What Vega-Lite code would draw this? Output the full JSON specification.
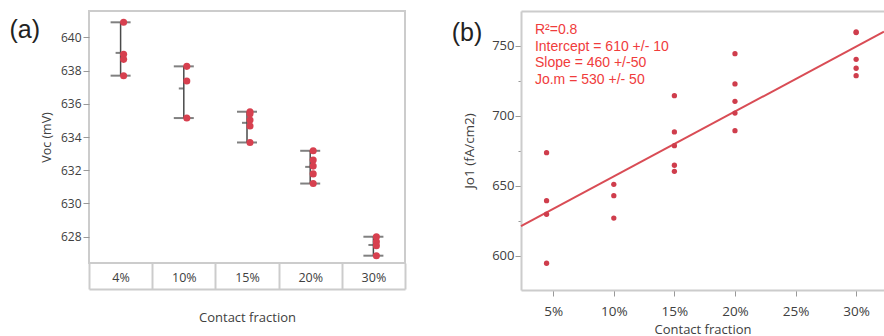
{
  "$schema": "https://vega.github.io/schema/vega-lite/v6.json",
  "padding": {"left": 8, "top": 10, "right": 0, "bottom": 0},
  "spacing": 44,
  "config": {
    "font": "Open Sans",
    "view": {"stroke": "#cccccc", "strokeWidth": 2},
    "axis": {"grid": false, "labelColor": "#404040", "titleColor": "#404040", "titleFontWeight": "normal", "tickColor": "#999999", "domainColor": "#cccccc", "domainWidth": 2},
    "title": {"font": "Liberation Sans", "fontWeight": "normal", "fontSize": 25, "color": "#222222", "anchor": "start", "frame": "bounds"}
  },
  "hconcat": [
    {
      "width": 316,
      "height": 252,
      "title": {"text": "(a)", "offset": -25, "dx": -31, "dy": 26.7, "baseline": "alphabetic"},
      "data": {"values": [
        {"cf": "4%", "voc": 640.9}, {"cf": "4%", "voc": 638.98}, {"cf": "4%", "voc": 638.67}, {"cf": "4%", "voc": 637.69},
        {"cf": "10%", "voc": 638.25}, {"cf": "10%", "voc": 637.37}, {"cf": "10%", "voc": 635.14},
        {"cf": "15%", "voc": 635.52}, {"cf": "15%", "voc": 635.4}, {"cf": "15%", "voc": 635.02}, {"cf": "15%", "voc": 634.66}, {"cf": "15%", "voc": 633.67},
        {"cf": "20%", "voc": 633.17}, {"cf": "20%", "voc": 632.61}, {"cf": "20%", "voc": 632.25}, {"cf": "20%", "voc": 631.78}, {"cf": "20%", "voc": 631.2},
        {"cf": "30%", "voc": 628.0}, {"cf": "30%", "voc": 627.7}, {"cf": "30%", "voc": 627.46}, {"cf": "30%", "voc": 626.86}
      ]},
      "resolve": {"axis": {"x": "independent"}},
      "layer": [
        {
          "transform": [{"aggregate": [{"op": "min", "field": "voc", "as": "lo"}, {"op": "max", "field": "voc", "as": "hi"}], "groupby": ["cf"]}],
          "mark": {"type": "rule", "color": "#4a4a4a", "strokeWidth": 1.5},
          "encoding": {
            "x": {"field": "cf", "type": "nominal", "scale": {"type": "band", "domain": ["4%", "10%", "15%", "20%", "30%"], "paddingInner": 0, "paddingOuter": 0},
              "axis": {"orient": "bottom", "title": null, "tickBand": "extent", "tickSize": 26, "tickColor": "#cccccc", "tickWidth": 2, "domain": false, "labelPadding": -18, "labelFontSize": 12.5, "labelAngle": 0}},
            "y": {"field": "lo", "type": "quantitative", "scale": {"domain": [626.42, 641.58], "nice": false, "zero": false}, "title": "Voc (mV)",
              "axis": {"values": [628, 630, 632, 634, 636, 638, 640], "tickSize": 6, "labelPadding": 2, "labelFontSize": 12, "titleFontSize": 12.5, "titlePadding": 7, "domain": false}},
            "y2": {"field": "hi"}
          }
        },
        {
          "transform": [{"aggregate": [{"op": "min", "field": "voc", "as": "lo"}], "groupby": ["cf"]}],
          "mark": {"type": "tick", "color": "#4a4a4a", "size": 20, "thickness": 2},
          "encoding": {
            "x": {"field": "cf", "type": "nominal", "scale": {"type": "band", "domain": ["4%", "10%", "15%", "20%", "30%"], "paddingInner": 0, "paddingOuter": 0},
              "axis": {"orient": "bottom", "offset": 26, "domain": true, "ticks": false, "labels": false, "title": "Contact fraction", "titlePadding": 22, "titleFontSize": 13}},
            "y": {"field": "lo", "type": "quantitative", "scale": {"domain": [626.42, 641.58], "nice": false, "zero": false}, "title": "Voc (mV)"}
          }
        },
        {
          "transform": [{"aggregate": [{"op": "max", "field": "voc", "as": "hi"}], "groupby": ["cf"]}],
          "mark": {"type": "tick", "color": "#4a4a4a", "size": 20, "thickness": 2},
          "encoding": {
            "x": {"field": "cf", "type": "nominal", "scale": {"type": "band", "domain": ["4%", "10%", "15%", "20%", "30%"], "paddingInner": 0, "paddingOuter": 0}, "axis": null},
            "y": {"field": "hi", "type": "quantitative", "scale": {"domain": [626.42, 641.58], "nice": false, "zero": false}, "title": "Voc (mV)"}
          }
        },
        {
          "transform": [{"aggregate": [{"op": "mean", "field": "voc", "as": "avg"}], "groupby": ["cf"]}],
          "mark": {"type": "tick", "color": "#4a4a4a", "size": 5, "thickness": 2, "xOffset": -2.5},
          "encoding": {
            "x": {"field": "cf", "type": "nominal", "scale": {"type": "band", "domain": ["4%", "10%", "15%", "20%", "30%"], "paddingInner": 0, "paddingOuter": 0}, "axis": null},
            "y": {"field": "avg", "type": "quantitative", "scale": {"domain": [626.42, 641.58], "nice": false, "zero": false}, "title": "Voc (mV)"}
          }
        },
        {
          "mark": {"type": "circle", "size": 50, "color": "#d7404f", "opacity": 1, "xOffset": 3},
          "encoding": {
            "x": {"field": "cf", "type": "nominal", "scale": {"type": "band", "domain": ["4%", "10%", "15%", "20%", "30%"], "paddingInner": 0, "paddingOuter": 0}, "axis": null},
            "y": {"field": "voc", "type": "quantitative", "scale": {"domain": [626.42, 641.58], "nice": false, "zero": false}, "title": "Voc (mV)"}
          }
        }
      ]
    },
    {
      "width": 363,
      "height": 279,
      "view": {"stroke": null},
      "title": {"text": "(b)", "offset": -26.7, "dx": -11, "dy": 28.7, "baseline": "alphabetic"},
      "data": {"values": [
        {"cf": 4.45, "jo1": 673.8}, {"cf": 4.45, "jo1": 639.5}, {"cf": 4.45, "jo1": 629.8}, {"cf": 4.45, "jo1": 594.8},
        {"cf": 10, "jo1": 651.2}, {"cf": 10, "jo1": 643.1}, {"cf": 10, "jo1": 627.1},
        {"cf": 15, "jo1": 714.5}, {"cf": 15, "jo1": 688.6}, {"cf": 15, "jo1": 678.8}, {"cf": 15, "jo1": 664.8}, {"cf": 15, "jo1": 660.5},
        {"cf": 20, "jo1": 744.5}, {"cf": 20, "jo1": 722.9}, {"cf": 20, "jo1": 710.5}, {"cf": 20, "jo1": 702.1}, {"cf": 20, "jo1": 689.5},
        {"cf": 30, "jo1": 760}, {"cf": 30, "jo1": 759.6}, {"cf": 30, "jo1": 740.5}, {"cf": 30, "jo1": 734.1}, {"cf": 30, "jo1": 728.8}
      ]},
      "resolve": {"axis": {"x": "independent"}},
      "layer": [
        {
          "transform": [{"regression": "jo1", "on": "cf", "extent": [2.34, 32.3]}],
          "mark": {"type": "line", "color": "#d94c55", "strokeWidth": 2},
          "encoding": {
            "x": {"field": "cf", "type": "quantitative", "scale": {"domain": [2.34, 32.3], "nice": false, "zero": false},
              "axis": {"orient": "top", "ticks": false, "labels": false, "title": null, "domain": true}},
            "y": {"field": "jo1", "type": "quantitative", "scale": {"domain": [575.7, 775], "nice": false, "zero": false}, "title": "Jo1 (fA/cm2)"}
          }
        },
        {
          "mark": {"type": "circle", "size": 28, "color": "#cf3d4c", "opacity": 1},
          "encoding": {
            "x": {"field": "cf", "type": "quantitative", "scale": {"domain": [2.34, 32.3], "nice": false, "zero": false},
              "axis": {"orient": "bottom", "values": [5, 10, 15, 20, 25, 30], "labelExpr": "datum.value + '%'", "tickSize": 6, "labelPadding": 8.5, "labelFontSize": 13.5, "title": "Contact fraction", "titleFontSize": 13, "titlePadding": 5}},
            "y": {"field": "jo1", "type": "quantitative", "scale": {"domain": [575.7, 775], "nice": false, "zero": false}, "title": "Jo1 (fA/cm2)",
              "axis": {"values": [600, 625, 650, 675, 700, 725, 750], "labelExpr": "datum.value % 50 === 0 ? datum.label : ''", "tickSize": {"condition": {"test": "datum.value % 50 === 0", "value": 6}, "value": 3}, "labelPadding": 1, "labelFontSize": 13, "titleFontSize": 13.5, "titlePadding": 15}}
          }
        },
        {
          "data": {"values": [{"note": "fit"}]},
          "mark": {"type": "text", "text": ["R²=0.8", "Intercept = 610 +/- 10", "Slope = 460 +/-50", "Jo.m = 530 +/- 50"], "align": "left", "baseline": "top", "font": "Liberation Sans", "fontSize": 14, "lineHeight": 16.7, "color": "#f03c3c"},
          "encoding": {
            "x": {"datum": 3.49, "type": "quantitative", "scale": {"domain": [2.34, 32.3], "nice": false, "zero": false}, "axis": null},
            "y": {"datum": 766.5, "type": "quantitative", "scale": {"domain": [575.7, 775], "nice": false, "zero": false}, "title": "Jo1 (fA/cm2)"}
          }
        }
      ]
    }
  ]
}
